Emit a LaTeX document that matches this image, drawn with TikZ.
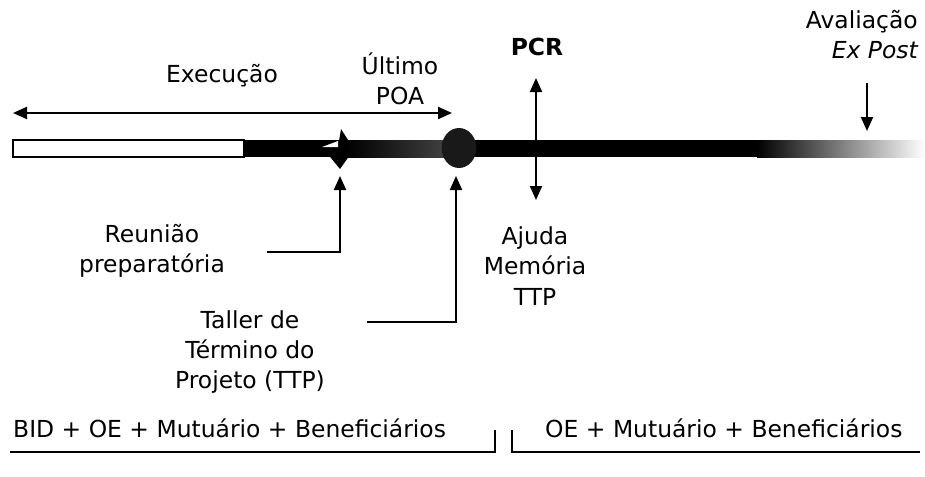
\documentclass[tikz,border=0pt]{standalone}
\usepackage{fontspec}
\setmainfont{DejaVu Sans}
\usetikzlibrary{arrows.meta}

\begin{document}
\begin{tikzpicture} [
  x=0.03cm, y=-0.03cm,
  every node/.style= {font=\fontsize{20}{26}\selectfont, inner sep=0},
  label node/.style= {align=center},
  pointer/.style= {line width=1.8pt, -{Triangle[length=0.42cm,width=0.36cm]}},
  both pointer/.style= {line width=1.8pt, {Triangle[length=0.42cm,width=0.36cm]}-{Triangle[length=0.42cm,width=0.36cm]}},
  group line/.style= {line width=1.2pt},
]
\useasboundingbox (0,0) rectangle (925,476);

% barra
\draw [fill=white, line width=1.2pt] (13,140) rectangle (244,157);
\fill [black] (244,140) rectangle (346,157);
\shade [left color=black, right color=black!75] (346,140) rectangle (445,157);
\fill [black] (445,140) rectangle (757,157);
\shade [left color=black, middle color=black!75, right color=white] (757,140) rectangle (925,157);
\fill (326,152) -- (352,152) -- (340,169) -- cycle;
\fill (339,141) -- (341,129) -- (348,140) -- cycle;
\fill [white] (322,147) -- (338,141) -- (338,147) -- cycle;
\fill [black!90] (459,148) ellipse [x radius=0.52cm, y radius=0.6cm];

\node (Exec) at (222,76) {Execução};
\node (POA) [label node] at (400,79) {Último\\POA};
\node (PCR) at (537,47) {\bfseries PCR};
\node (Aval) [align=right, anchor=north east] at (918,10) {Avaliação\\{\itshape Ex Post}};
\node (Reun) [label node] at (152,251) {Reunião\\preparatória};
\node (Taller) [label node] at (250,352) {Taller de\\Término do\\Projeto (TTP)};
\node (Ajuda) [label node] at (535,266) {Ajuda\\Memória\\TTP};
\node (BID) [anchor=west] at (13,428) {BID + OE + Mutuário + Beneficiários};
\node (OE) [anchor=west] at (545,428) {OE + Mutuário + Beneficiários};

\coordinate (E0) at (13,113);
\coordinate (E1) at (452,113);
\coordinate (P0) at (536,78);
\coordinate (P1) at (536,200);
\coordinate (A0) at (867,83);
\coordinate (A1) at (867,131);
\coordinate (R0) at (267,252);
\coordinate (R1) at (340,176);
\coordinate (T0) at (367,322);
\coordinate (T1) at (456,176);

\draw [both pointer] (E0) -- (E1);
\draw [both pointer] (P0) -- (P1);
\draw [pointer] (A0) -- (A1);
\draw [pointer] (R0) -| (R1);
\draw [pointer] (T0) -| (T1);

% grupos
\draw [group line] (10,452) -- (495,452) -- (495,430);
\draw [group line] (512,430) -- (512,452) -- (920,452);

\end{tikzpicture}
\end{document}
